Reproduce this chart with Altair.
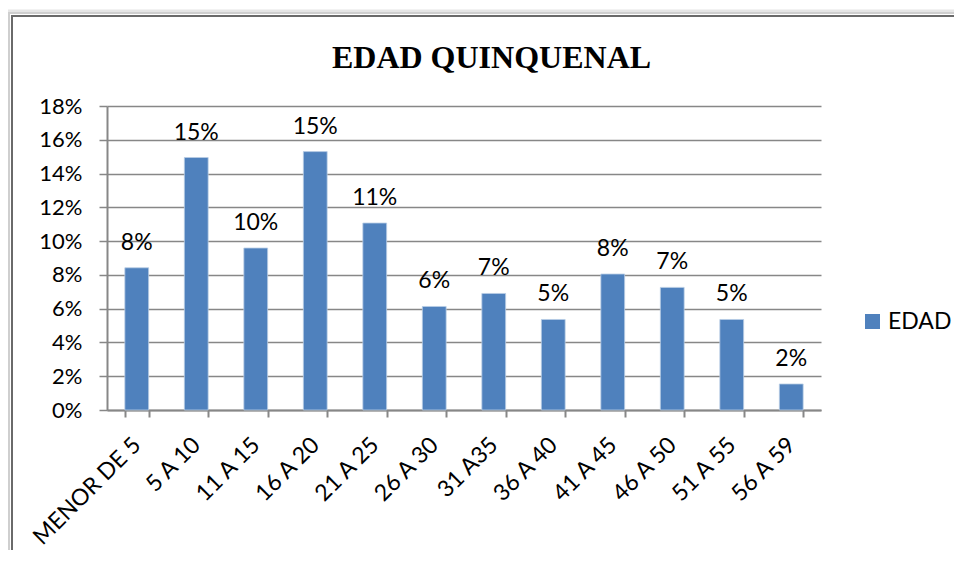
import altair as alt
import pandas as pd

categorias = ["MENOR DE 5", "5 A 10", "11 A 15", "16 A 20", "21 A 25", "26 A 30",
              "31 A35", "36 A 40", "41 A 45", "46 A 50", "51 A 55", "56 A 59"]
valores = [0.0842, 0.1495, 0.0959, 0.1530, 0.1107, 0.0613,
           0.0690, 0.0536, 0.0805, 0.0726, 0.0536, 0.0154]
serie = "EDAD"
ticks_y = [0, 0.02, 0.04, 0.06, 0.08, 0.10, 0.12, 0.14, 0.16, 0.18]
titulo = "EDAD QUINQUENAL"

df = pd.DataFrame({"cat": categorias, "val": valores, "serie": [serie] * len(categorias)})
frame_df = pd.DataFrame({"k": [0]})

FONT = "Lato"
GRID = "#878787"

x_enc = alt.X("cat:N", sort=categorias, title=None,
              scale=alt.Scale(paddingInner=0.6, paddingOuter=0.3),
              axis=alt.Axis(labelAngle=-45, labelAlign="right", labelBaseline="middle",
                            labelFontSize=23, labelFont=FONT, labelColor="#000000",
                            labelPadding=24, tickSize=7, tickBand="extent",
                            tickColor=GRID, tickWidth=2, domainColor=GRID, domainWidth=2,
                            grid=False, labelOverlap=False))
y_enc = alt.Y("val:Q", title=None,
              scale=alt.Scale(domain=[0, 0.18], nice=False),
              axis=alt.Axis(values=ticks_y, format=".0%", labelFontSize=22, labelFont=FONT,
                            labelColor="#000000", labelPadding=17, tickSize=8,
                            tickColor=GRID, tickWidth=1.5, domainColor=GRID, domainWidth=2,
                            gridColor=GRID, gridWidth=1.5, labelOverlap=False))

# decorative chart frame with soft shadow
frames = []
for off, col, w in [(5, "#e6e6e6", 3), (3, "#cfcfcf", 2), (0, "#6a6a6a", 2)]:
    frames.append(
        alt.Chart(frame_df).mark_rect(fill=None, stroke=col, strokeWidth=w, clip=False).encode(
            x=alt.value(-95 - off), x2=alt.value(1000), y=alt.value(-90 - off), y2=alt.value(700)
        )
    )

title_mark = alt.Chart(frame_df).mark_text(
    text=titulo, font="Liberation Serif", fontSize=32, fontWeight="bold", color="#000000",
    align="center", baseline="alphabetic"
).encode(x=alt.value(384.5), y=alt.value(-38))

bars = alt.Chart(df).mark_bar(stroke="#b9cde5", strokeWidth=0.8).encode(
    x=x_enc, y=y_enc,
    color=alt.Color("serie:N", scale=alt.Scale(range=["#4F81BD"]),
                    legend=alt.Legend(title=None, orient="none", legendX=754, legendY=204,
                                      symbolType="square", symbolSize=225,
                                      symbolStrokeWidth=0, labelFontSize=23, labelFont=FONT,
                                      labelColor="#000000", labelOffset=4))
)

labels = alt.Chart(df).mark_text(baseline="alphabetic", dy=-18, fontSize=23, font=FONT,
                                 color="#000000").encode(
    x=x_enc, y=y_enc, text=alt.Text("val:Q", format=".0%")
)

chart = alt.layer(*frames, title_mark, bars, labels).properties(
    width=714, height=304,
    autosize=alt.AutoSizeParams(type="none"),
    padding={"left": 99, "top": 98, "right": 133, "bottom": 140},
).configure_view(stroke=None)

chart.save("out.html", embed_options={"renderer": "svg", "actions": False})
